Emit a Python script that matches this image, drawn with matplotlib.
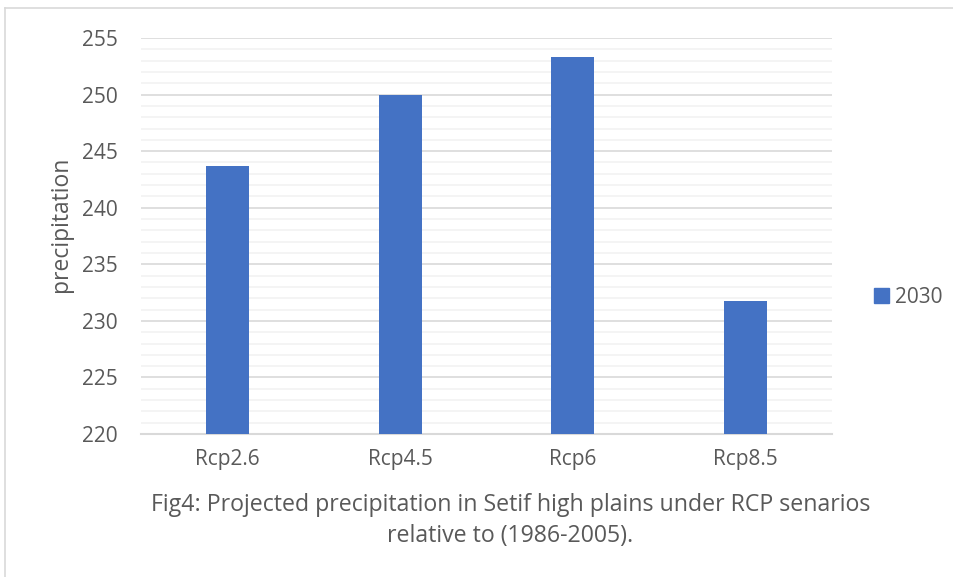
import matplotlib.pyplot as plt
from matplotlib.lines import Line2D
from matplotlib.patches import Patch
import numpy as np

# data
scenarios = ["Rcp2.6", "Rcp4.5", "Rcp6", "Rcp8.5"]
precip_2030 = [243.7, 250.0, 253.3, 231.8]
series_name = "2030"

plt.rcParams['font.family'] = ['Open Sans', 'DejaVu Sans']
txt = "#595959"
bar_c = "#4472C4"

fig = plt.figure(figsize=(9.54, 5.77), dpi=100)
ax = fig.add_axes([0.1478, 0.2478, 0.7243, 0.6863])

x = np.arange(len(scenarios))
ax.bar(x, [v - 220 for v in precip_2030], bottom=220, width=0.25, color=bar_c, zorder=3)

ax.set_ylim(220, 255)
ax.set_xlim(-0.5, len(scenarios) - 0.5)
ax.set_yticks(np.arange(220, 256, 5))
ax.set_yticks(np.arange(220, 256, 1), minor=True)
ax.grid(axis='y', which='minor', color='#f2f2f2', linewidth=1.2, zorder=0)
ax.grid(axis='y', which='major', color='#d9d9d9', linewidth=1.2, zorder=1)
ax.set_xticks(x)
ax.set_xticklabels(scenarios)
ax.tick_params(axis='both', which='both', length=0, colors=txt, labelsize=15)
ax.tick_params(axis='x', pad=11)
ax.tick_params(axis='y', pad=17)
for s in ['top', 'right', 'left']:
    ax.spines[s].set_visible(False)
ax.spines['bottom'].set_color('#d9d9d9')
ax.spines['bottom'].set_linewidth(1.5)

ax.set_ylabel("precipitation", fontsize=16.5, color=txt)
ax.yaxis.set_label_coords(-0.099, 0.53)

fig.legend(handles=[Patch(color=bar_c, label=series_name)], loc='center left',
           bbox_to_anchor=(0.897, 0.485), frameon=False, fontsize=15,
           labelcolor=txt, handlelength=0.7, handleheight=0.7, handletextpad=0.3)

fig.text(0.535, 0.124, "Fig4: Projected precipitation in Setif high plains under RCP senarios",
         ha='center', va='center', fontsize=16.7, color=txt)
fig.text(0.535, 0.071, "relative to (1986-2005).", ha='center', va='center', fontsize=16.7, color=txt)

# outer border of the chart area
fig.add_artist(Line2D([0.005, 1], [1 - 8/577, 1 - 8/577], color='#d9d9d9', lw=1.2))
fig.add_artist(Line2D([0.005, 0.005], [0, 1 - 8/577], color='#d9d9d9', lw=1.2))

fig.savefig("out.png", dpi=100)
